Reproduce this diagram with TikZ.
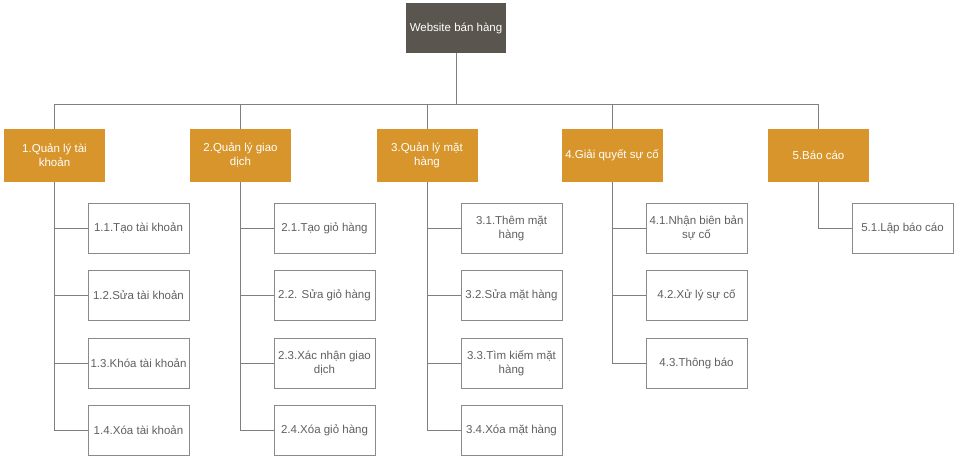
\documentclass[tikz,border=0pt]{standalone}
\usepackage{fontspec}
\setmainfont{Liberation Sans}
\definecolor{rootc}{HTML}{5A554E}
\definecolor{orangec}{HTML}{D8952B}
\definecolor{leafb}{HTML}{8A8A8A}
\definecolor{leaft}{HTML}{606060}
\definecolor{connc}{HTML}{7F7F7F}
\tikzset{
  base/.style={inner sep=0pt, align=center, font=\fontsize{11.5}{14}\selectfont},
  rootbox/.style={base, fill=rootc, text=white, minimum width=100pt, minimum height=50pt},
  lvlbox/.style={base, fill=orangec, text=white, minimum width=101pt, minimum height=53pt},
  leafbox/.style={base, draw=leafb, line width=0.9pt, fill=white, text=leaft, minimum width=101pt, minimum height=50pt},
  conn/.style={draw=connc, line width=0.9pt}
}
\begin{document}
\begin{tikzpicture}[x=1pt,y=1pt]
\useasboundingbox (0,0) rectangle (961,-464);
\node[rootbox] (r) at (456,-28) {Website bán hàng};
% level 1
\node[lvlbox] (a) at (54.5,-155.5) {1.Quản lý tài\\khoản};
\node[lvlbox] (b) at (240.5,-155.5) {2.Quản lý giao\\dịch};
\node[lvlbox] (c) at (427,-155.5) {3.Quản lý mặt\\hàng};
\node[lvlbox] (d) at (612,-155.5) {4.Giải quyết sự cố};
\node[lvlbox] (e) at (818.5,-155.5) {5.Báo cáo};
% leaves
\node[leafbox] (a1) at (138.5,-228) {1.1.Tạo tài khoản};
\node[leafbox] (a2) at (138.5,-295.5) {1.2.Sửa tài khoản};
\node[leafbox] (a3) at (138.5,-363) {1.3.Khóa tài khoản};
\node[leafbox] (a4) at (138.5,-430) {1.4.Xóa tài khoản};
\node[leafbox] (b1) at (324.5,-228) {2.1.Tạo giỏ hàng};
\node[leafbox] (b2) at (324.5,-295.5) {2.2. Sửa giỏ hàng};
\node[leafbox] (b3) at (324.5,-363) {2.3.Xác nhận giao\\dịch};
\node[leafbox] (b4) at (324.5,-430) {2.4.Xóa giỏ hàng};
\node[leafbox] (c1) at (511.5,-228) {3.1.Thêm mặt\\hàng};
\node[leafbox] (c2) at (511.5,-295.5) {3.2.Sửa mặt hàng};
\node[leafbox] (c3) at (511.5,-363) {3.3.Tìm kiếm mặt\\hàng};
\node[leafbox] (c4) at (511.5,-430) {3.4.Xóa mặt hàng};
\node[leafbox] (d1) at (696.5,-228) {4.1.Nhận biên bản\\sự cố};
\node[leafbox] (d2) at (696.5,-295.5) {4.2.Xử lý sự cố};
\node[leafbox] (d3) at (696.5,-363) {4.3.Thông báo};
\node[leafbox] (e1) at (902.5,-228) {5.1.Lập báo cáo};
% connectors
\coordinate (bus) at (456,-104);
\draw[conn] (r.south) -- (bus);
\draw[conn] (a.north) -- (a.north |- bus) -- (e.north |- bus) -- (e.north);
\draw[conn] (b.north) -- (b.north |- bus);
\draw[conn] (c.north) -- (c.north |- bus);
\draw[conn] (d.north) -- (d.north |- bus);
% trunks
\draw[conn] (a.south) |- (a4.west);
\draw[conn] (a.south |- a1.west) -- (a1.west);
\draw[conn] (a.south |- a2.west) -- (a2.west);
\draw[conn] (a.south |- a3.west) -- (a3.west);
\draw[conn] (b.south) |- (b4.west);
\draw[conn] (b.south |- b1.west) -- (b1.west);
\draw[conn] (b.south |- b2.west) -- (b2.west);
\draw[conn] (b.south |- b3.west) -- (b3.west);
\draw[conn] (c.south) |- (c4.west);
\draw[conn] (c.south |- c1.west) -- (c1.west);
\draw[conn] (c.south |- c2.west) -- (c2.west);
\draw[conn] (c.south |- c3.west) -- (c3.west);
\draw[conn] (d.south) |- (d3.west);
\draw[conn] (d.south |- d1.west) -- (d1.west);
\draw[conn] (d.south |- d2.west) -- (d2.west);
\draw[conn] (e.south) |- (e1.west);
\end{tikzpicture}
\end{document}
